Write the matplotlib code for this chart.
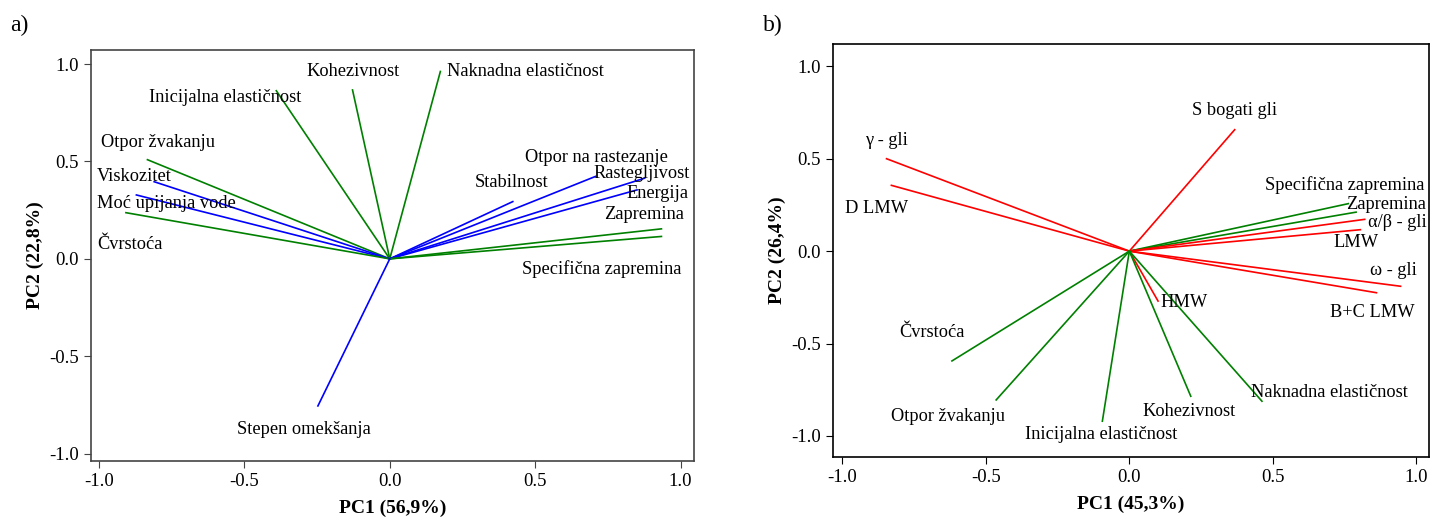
import matplotlib.pyplot as plt

plt.rcParams['font.family'] = ['Liberation Serif', 'DejaVu Serif']

# panel a) loadings
a_names = ['Kohezivnost', 'Inicijalna elastičnost', 'Otpor žvakanju', 'Viskozitet',
           'Moć upijanja vode', 'Čvrstoća', 'Naknadna elastičnost', 'Stabilnost',
           'Otpor na rastezanje', 'Rastegljivost', 'Energija', 'Zapremina',
           'Specifična zapremina', 'Stepen omekšanja']
a_x = [-0.128, -0.39, -0.833, -0.81, -0.871, -0.907, 0.174, 0.423,
       0.707, 0.876, 0.85, 0.934, 0.934, -0.247]
a_y = [0.867, 0.863, 0.509, 0.396, 0.328, 0.237, 0.962, 0.294,
       0.423, 0.414, 0.354, 0.154, 0.115, -0.755]
a_grp = ['g', 'g', 'g', 'b', 'b', 'g', 'g', 'b', 'b', 'b', 'b', 'g', 'g', 'b']
a_lab_x = [-0.285, -0.828, -0.993, -1.007, -1.007, -1.007, 0.196, 0.292,
           0.464, 0.70, 0.814, 0.735, 0.454, -0.526]
a_lab_y = [0.96, 0.827, 0.596, 0.421, 0.282, 0.072, 0.96, 0.39,
           0.519, 0.437, 0.334, 0.226, -0.051, -0.878]

# panel b) loadings
b_names = ['γ - gli', 'D LMW', 'S bogati gli', 'Specifična zapremina', 'Zapremina',
           'α/β - gli', 'LMW', 'ω - gli', 'B+C LMW', 'HMW', 'Čvrstoća',
           'Otpor žvakanju', 'Inicijalna elastičnost', 'Kohezivnost',
           'Naknadna elastičnost']
b_x = [-0.846, -0.829, 0.367, 0.763, 0.79, 0.82, 0.805, 0.945, 0.861, 0.1,
       -0.618, -0.464, -0.094, 0.214, 0.462]
b_y = [0.5, 0.356, 0.657, 0.257, 0.211, 0.172, 0.116, -0.19, -0.225, -0.27,
       -0.594, -0.805, -0.92, -0.785, -0.812]
b_grp = ['r', 'r', 'r', 'g', 'g', 'r', 'r', 'r', 'r', 'r', 'g', 'g', 'g', 'g', 'g']
b_lab_x = [-0.92, -0.99, 0.22, 0.472, 0.754, 0.83, 0.71, 0.84, 0.70, 0.107,
           -0.80, -0.83, -0.365, 0.045, 0.425]
b_lab_y = [0.60, 0.23, 0.76, 0.355, 0.25, 0.155, 0.045, -0.105, -0.33, -0.28,
           -0.44, -0.895, -0.99, -0.87, -0.765]

colors = {'g': '#008000', 'b': '#0000ff', 'r': '#ff0000'}
ticks = [-1.0, -0.5, 0.0, 0.5, 1.0]

fig = plt.figure(figsize=(14.31, 5.19), dpi=100)
ax1 = fig.add_axes([0.0636, 0.112, 0.4214, 0.792])
ax2 = fig.add_axes([0.582, 0.119, 0.4166, 0.796])


def draw(ax, xs, ys, grp, names, lx, ly, xlabel, ylabel, spine_col):
    for x, y, g in zip(xs, ys, grp):
        ax.plot([0, x], [0, y], color=colors[g], lw=1.2)
    for n, x, y in zip(names, lx, ly):
        ax.text(x, y, n, fontsize=13.2, ha='left', va='center')
    ax.set_xticks(ticks)
    ax.set_yticks(ticks)
    ax.xaxis.set_major_formatter(plt.FuncFormatter(lambda v, p: '%.1f' % v))
    ax.yaxis.set_major_formatter(plt.FuncFormatter(lambda v, p: '%.1f' % v))
    ax.tick_params(labelsize=13.5, direction='out', length=5, color=spine_col)
    for s in ax.spines.values():
        s.set_color(spine_col)
        s.set_linewidth(1.2)
    ax.set_xlabel(xlabel, fontsize=14, fontweight='bold', labelpad=7)
    ax.set_ylabel(ylabel, fontsize=14, fontweight='bold', labelpad=4)


draw(ax1, a_x, a_y, a_grp, a_names, a_lab_x, a_lab_y,
     'PC1 (56,9%)', 'PC2 (22,8%)', '#444444')
ax1.set_xlim(-1.027, 1.046)
ax1.set_ylim(-1.037, 1.073)

draw(ax2, b_x, b_y, b_grp, b_names, b_lab_x, b_lab_y,
     'PC1 (45,3%)', 'PC2 (26,4%)', 'black')
ax2.set_xlim(-1.033, 1.044)
ax2.set_ylim(-1.115, 1.12)

fig.text(0.007, 0.94, 'a)', fontsize=17)
fig.text(0.533, 0.94, 'b)', fontsize=17)

fig.savefig('out.png', dpi=100)
